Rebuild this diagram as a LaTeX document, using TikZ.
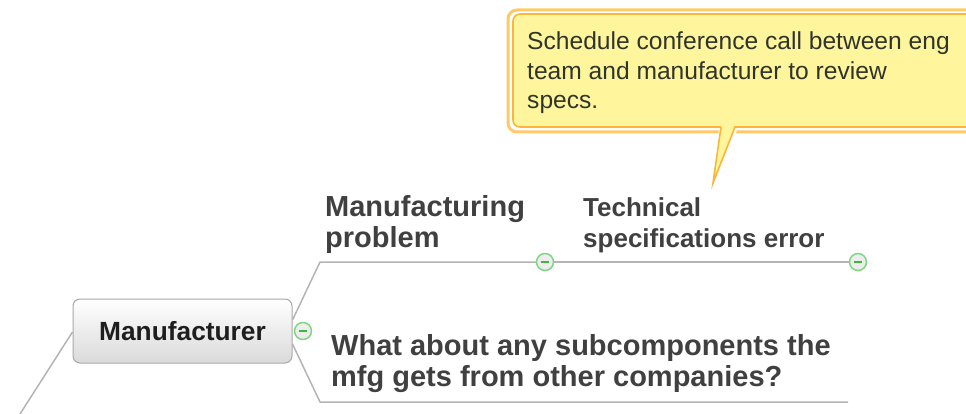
\documentclass[tikz,border=0pt]{standalone}
\usepackage{fontspec}
\setmainfont{Liberation Sans}
\usetikzlibrary{calc}

\definecolor{branchgray}{HTML}{B4B4B4}
\definecolor{topictext}{HTML}{404040}
\definecolor{maintext}{HTML}{1E1E1E}
\definecolor{boxborder}{HTML}{A8A8A8}
\definecolor{boxbottom}{HTML}{DADADA}
\definecolor{togglegreen}{HTML}{82D682}
\definecolor{minusgreen}{HTML}{3DB83D}
\definecolor{togglefill}{HTML}{EDEDED}
\definecolor{noteyellow}{HTML}{FFF59D}
\definecolor{noteorange}{HTML}{FFB638}
\definecolor{noteglow}{HTML}{FFC966}
\definecolor{notetext}{HTML}{2F352B}

\tikzset{
  branch/.style={draw=branchgray, line width=1.5pt},
  toggle/.style={circle, minimum size=17pt, inner sep=0pt, draw=togglegreen,
    line width=1.5pt, fill=togglefill,
    path picture={\draw[minusgreen, line width=1.9pt]
      ([xshift=-4.3pt]path picture bounding box.center) --
      ([xshift=4.3pt]path picture bounding box.center);}},
  topic/.style={anchor=base west, inner sep=0pt, align=left, text=topictext,
    font=\fontsize{29}{30.5}\selectfont\bfseries},
  subtopic/.style={anchor=base west, inner sep=0pt, align=left, text=topictext,
    font=\fontsize{26}{31}\selectfont\bfseries},
  mainbox/.style={rectangle, rounded corners=7pt, draw=boxborder, line width=1pt,
    top color=white, bottom color=boxbottom, minimum width=219pt,
    minimum height=64pt, inner sep=0pt, text=maintext,
    font=\fontsize{26.3}{30}\selectfont\bfseries},
  notetextstyle/.style={anchor=base west, inner sep=0pt, align=left,
    text=notetext, font=\fontsize{24.6}{29.5}\selectfont}
}

\begin{document}
\begin{tikzpicture}[x=1pt, y=-1pt]
  \useasboundingbox (0,0) rectangle (966,414);

  % central topic and its toggle
  \node[mainbox] (man) at (182.5,331) {Manufacturer};
  \node[toggle] (t0) at (303,331) {};
  \coordinate (parentend) at (20,414);
  \draw[branch] ([yshift=-1pt]man.west) -- (parentend);

  % upper branch
  \coordinate (upbend) at (320,262);
  \node[toggle] (t1) at (545,262) {};
  \node[toggle] (t2) at (858,262) {};
  \draw[branch] ([yshift=11pt]man.east) -- (upbend) -- (t1.west);
  \draw[branch] (t1.east) -- (t2.west);

  % lower branch
  \coordinate (lowbend) at (320,402);
  \coordinate (lowend) at (848,402);
  \draw[branch] ([yshift=-13pt]man.east) -- (lowbend) -- (lowend);

  % topic texts (anchored on the baseline of the last line)
  \node[topic] (mfgproblem) at (325,247) {Manufacturing\\problem};
  \node[subtopic] (techspec) at (583,247) {Technical\\specifications error};
  \node[topic] (subcomp) at (331,386) {What about any subcomponents the\\mfg gets from other companies?};

  % callout note
  \draw[noteglow, line width=3pt, rounded corners=9pt] (508,10) rectangle (985,132);
  \draw[white, line width=4pt, line join=round] (721,130) -- (713,183) -- (735,130);
  \fill[noteyellow] (721,127) -- (713,183) -- (735,127) -- cycle;
  \draw[noteorange, fill=noteyellow, line width=1.6pt, rounded corners=7pt]
    (513,14) rectangle (985,127);
  \fill[noteyellow] (721.5,125) -- (713,183) -- (734.5,125) -- cycle;
  \draw[noteorange, line width=1.6pt, line join=miter]
    (721,127) -- (713,183) -- (735,127);
  \node[notetextstyle] (note) at (527,109)
    {Schedule conference call between eng\\team and manufacturer to review\\specs.};
\end{tikzpicture}
\end{document}
